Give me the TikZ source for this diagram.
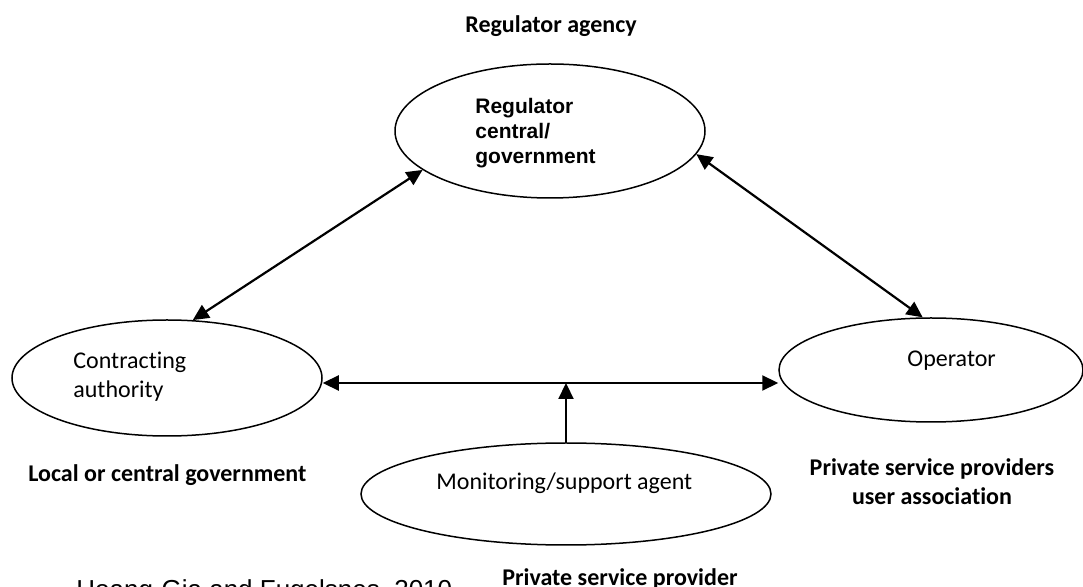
\documentclass[tikz,border=0pt]{standalone}
\usepackage{fontspec}
\setmainfont{Carlito}[Ligatures=NoCommon]
\newfontfamily\arialfont{Liberation Sans}
\usetikzlibrary{shapes.geometric,arrows.meta}

\begin{document}
\begin{tikzpicture}[x=0.5pt,y=-0.5pt]
	\tikzstyle{party} = [ draw, ellipse, line width=0.75pt, inner sep=0pt ];
	\tikzstyle{partytext} = [ inner sep=0pt, font={\fontsize{12}{14.5}\selectfont} ];
	\tikzstyle{roletext} = [ inner sep=0pt, font={\fontsize{12}{14.5}\selectfont\bfseries} ];
	\tikzstyle{relation} = [ <->, line width=1.1pt, >={Triangle[length=8pt,width=7.5pt]} ];

	\useasboundingbox (0,0) rectangle (1083,587);

	% the four parties
	\node[party, minimum width=155pt, minimum height=67pt] (reg) at (550,131) {};
	\node[party, minimum width=155pt, minimum height=58pt] (ca) at (167,378) {};
	\node[party, minimum width=152pt, minimum height=52pt] (op) at (931,370) {};
	\node[party, minimum width=205pt, minimum height=51pt] (mon) at (566,494) {};

	\node[inner sep=0pt, anchor=north west, align=left,
		font={\arialfont\bfseries\fontsize{10.5}{12.5}\selectfont}] (regtxt) at (475,98)
		{Regulator\\central/\\government};
	\node[partytext, anchor=north west, align=left] (catxt) at (73,352) {Contracting\\authority};
	\node[partytext, anchor=base west] (optxt) at (907,367) {Operator};
	\node[partytext, anchor=base west] (montxt) at (436,490) {Monitoring/support agent};

	% who plays each part
	\node[roletext, anchor=base] (regrole) at (551,33) {Regulator agency};
	\node[roletext, anchor=base west] (carole) at (28,482) {Local or central government};
	\node[roletext, anchor=north, align=center] (oprole) at (932,458) {Private service providers\\user association};
	\node[roletext, anchor=base] (monrole) at (620,586) {Private service provider};

	\node[inner sep=0pt, anchor=base west, font={\arialfont\fontsize{13}{15}\selectfont}] (src)
		at (76,599) {Hoang-Gia and Fugelsnes, 2010};

	% links between the parties
	\coordinate (mid) at (566,383);
	\draw[relation] (ca.66) -- (reg.197);
	\draw[relation] (reg.351) -- (op.99);
	\draw[relation] (ca.east |- mid) -- (op.west |- mid);
	\draw[relation, <-] (mid) -- (mon.north);
\end{tikzpicture}
\end{document}
